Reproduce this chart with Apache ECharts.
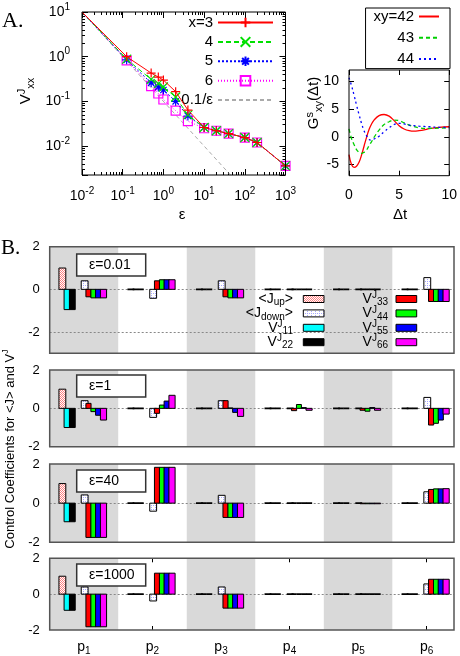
<!DOCTYPE html>
<html><head><meta charset="utf-8">
<script src="https://cdn.jsdelivr.net/npm/echarts@6/dist/echarts.min.js"></script>
<style>html,body{margin:0;padding:0;background:#fff}#c{width:460px;height:656px}</style>
</head><body><div id="c"></div>
<script>
// ===== Panel A (left): V^J_xx versus epsilon =====
const epsA = [0.01, 0.125, 0.5, 0.75, 1, 2, 4, 10, 20, 40, 100, 200, 1000];
const vxx3 = [10, 1.0, 0.43, 0.35, 0.30, 0.165, 0.064, 0.026, 0.022, 0.019, 0.0155, 0.012, 0.0036];
const vxx4 = [10, 0.88, 0.31, 0.25, 0.21, 0.125, 0.050, 0.026, 0.022, 0.019, 0.0155, 0.012, 0.0036];
const vxx5 = [10, 0.85, 0.26, 0.21, 0.18, 0.100, 0.047, 0.026, 0.022, 0.019, 0.0155, 0.012, 0.0036];
const vxx6 = [10, 0.83, 0.22, 0.15, 0.11, 0.062, 0.036, 0.025, 0.022, 0.019, 0.0155, 0.012, 0.0036];
const refEps = [0.01, 1000];
const refVal = [10, 0.0001];
const namesA = ['x=3', '4', '5', '6', '0.1/ε'];

// ===== Panel A (right): G^s_xy(Δt) =====
const dt  = [0, 0.25, 0.5, 0.75, 1, 1.25, 1.5, 1.75, 2, 2.25, 2.5, 3, 3.5, 4, 4.5, 5, 5.5, 6, 6.5, 7, 7.5, 8, 9, 10];
const g42 = [-3.2, -5.0, -5.5, -5.3, -4.6, -3.3, -1.7, -0.1, 1.3, 2.3, 3.0, 3.8, 4.0, 3.7, 2.9, 2.0, 1.4, 1.1, 1.0, 1.1, 1.25, 1.45, 1.7, 1.8];
const g43 = [1.4, -0.3, -1.4, -2.3, -2.8, -3.0, -2.8, -2.4, -1.6, -0.9, -0.1, 1.2, 2.2, 2.7, 3.0, 2.9, 2.5, 2.1, 1.8, 1.6, 1.5, 1.5, 1.55, 1.6];
const g44 = [10.6, 9.2, 7.5, 5.7, 4.0, 2.4, 1.1, 0.2, -0.5, -0.6, -0.4, 0.1, 0.9, 1.6, 2.2, 2.4, 2.3, 2.1, 2.0, 1.9, 1.85, 1.8, 1.7, 1.65];
const namesG = ['xy=42', '43', '44'];

// ===== Panel B: control coefficients (rows: ε=0.01, 1, 40, 1000; columns p1..p6) =====
const paramIdx = [1, 2, 3, 4, 5, 6];
const epsB = ['0.01', '1', '40', '1000'];
const Jup   = [[1.0,0,0,0,0,0],[1.0,0,0,0,0,0],[1.0,0,0,0,0,0],[1.0,0,0,0,0,0]];
const Jdown = [[0.4,-0.42,0.4,0,0,0.55],[0.4,-0.47,0.4,0,0,0.57],[0.42,-0.41,0.4,0,0,0.58],[0.4,-0.38,0.4,0,0,0.57]];
const V11 = [[-0.95,0,0,0,0,0],[-1.0,0,0,0,0,0],[-0.95,0,0,0,0,0],[-0.9,0,0,0,0,0]];
const V22 = [[-0.95,0,0,0,0,0],[-1.0,0,0,0,0,0],[-0.95,0,0,0,0,0],[-0.9,0,0,0,0,0]];
const V33 = [[-0.35,0.4,-0.35,0,0,-0.57],[0.26,-0.26,0.4,-0.12,-0.1,-0.87],[-1.75,1.83,-0.73,0,-0.03,0.7],[-1.82,1.17,-0.78,0,0,0.83]];
const V44 = [[-0.4,0.45,-0.4,0,0,-0.57],[-0.17,0.17,0.02,0.2,-0.15,-0.78],[-1.75,1.83,-0.73,0,-0.03,0.73],[-1.82,1.17,-0.78,0,0,0.83]];
const V55 = [[-0.4,0.45,-0.4,0,0,-0.57],[-0.36,0.38,-0.21,0.04,0.04,-0.61],[-1.75,1.83,-0.73,0,-0.03,0.73],[-1.82,1.17,-0.78,0,0,0.83]];
const V66 = [[-0.4,0.45,-0.4,0,0,-0.57],[-0.61,0.68,-0.42,-0.1,-0.1,-0.3],[-1.75,1.83,-0.73,0,-0.03,0.74],[-1.82,1.17,-0.78,0,0,0.83]];

// ================= rendering =================
const FF = '"Liberation Sans", Arial, sans-serif';
const SERIF = '"Liberation Serif", "DejaVu Serif", serif';
function R(fs, lh) {
  const s = Math.round(fs * 0.7);
  return {
    v:  {fontSize: fs, fontFamily: FF, color: '#000', lineHeight: lh || fs + 4},
    sp: {fontSize: s, fontFamily: FF, color: '#000', verticalAlign: 'top', lineHeight: s + 1},
    sb: {fontSize: s, fontFamily: FF, color: '#000', verticalAlign: 'bottom', lineHeight: s + 1}
  };
}
function mkPattern(kind) {
  const c = document.createElement('canvas'); c.width = 4; c.height = 4;
  const g = c.getContext('2d');
  g.fillStyle = '#fff'; g.fillRect(0, 0, 4, 4);
  if (kind === 'up') {
    g.fillStyle = '#ff8080';
    [[0,0],[2,0],[1,1],[3,1],[0,2],[2,2],[1,3],[3,3]].forEach(p => g.fillRect(p[0], p[1], 1, 1));
  } else {
    g.fillStyle = '#a8a8ff';
    g.fillRect(1, 1, 1, 1); g.fillRect(3, 3, 1, 1); g.fillRect(3, 1, 1, 1);
  }
  return {image: c, repeat: 'repeat'};
}
const patUp = mkPattern('up'), patDown = mkPattern('down');

const powLabel = v => {
  const e = Math.log10(v), r = Math.round(e);
  if (Math.abs(e - r) > 1e-6) return '';
  return '{v|10}{sp|' + r + '}';
};
const log10 = Math.log10;
const minorX = [], minorY = [];
for (let d = -2; d <= 2; d++) for (let m = 2; m <= 9; m++) minorX.push(log10(m) + d);
for (let d = -3; d <= 0; d++) for (let m = 2; m <= 9; m++) { const v = log10(m) + d; if (v > log10(0.00225)) minorY.push(v); }

const gridBase = {show: true, z: 10, backgroundColor: 'transparent', borderColor: '#000', borderWidth: 1};
const grids = [
  Object.assign({}, gridBase, {left: 82, top: 12, width: 203.5, height: 163}),
  Object.assign({}, gridBase, {left: 349, top: 70, width: 101.7, height: 105.7}),
  Object.assign({}, gridBase, {left: 49.7, top: 246.7, width: 404.3, height: 106.6, borderColor: '#555', borderWidth: 1.5}),
  Object.assign({}, gridBase, {left: 49.7, top: 370, width: 404.3, height: 76.7, borderColor: '#555', borderWidth: 1.5}),
  Object.assign({}, gridBase, {left: 49.7, top: 464, width: 404.3, height: 78.3, borderColor: '#555', borderWidth: 1.5}),
  Object.assign({}, gridBase, {left: 49.7, top: 558.3, width: 404.3, height: 76, borderColor: '#555', borderWidth: 1.5})
];

const noLine = {show: false, onZero: false};
const tickIn = len => ({show: true, inside: true, length: len, lineStyle: {color: '#000', width: 1}});
const xAxes = [
  {type: 'log', gridIndex: 0, min: 0.01, max: 1000, position: 'bottom', axisLine: noLine, splitLine: {show: false},
   axisTick: tickIn(6), axisLabel: {margin: 11, formatter: powLabel, rich: R(14, 20)}},
  {type: 'log', gridIndex: 0, min: 0.01, max: 1000, position: 'top', axisLine: noLine, splitLine: {show: false},
   axisTick: tickIn(6), axisLabel: {show: false}},
  {type: 'value', gridIndex: 0, min: -2, max: 3, position: 'bottom', axisLine: noLine, splitLine: {show: false},
   axisTick: Object.assign(tickIn(3), {customValues: minorX}), axisLabel: {show: false}},
  {type: 'value', gridIndex: 0, min: -2, max: 3, position: 'top', axisLine: noLine, splitLine: {show: false},
   axisTick: Object.assign(tickIn(3), {customValues: minorX}), axisLabel: {show: false}},
  {type: 'value', gridIndex: 1, min: 0, max: 10, interval: 5, position: 'bottom', axisLine: noLine, splitLine: {show: false},
   axisTick: tickIn(5), axisLabel: {margin: 12, fontSize: 14, fontFamily: FF, color: '#000'}},
  {type: 'value', gridIndex: 1, min: 0, max: 10, interval: 5, position: 'top', axisLine: noLine, splitLine: {show: false},
   axisTick: tickIn(5), axisLabel: {show: false}}
];
const yAxes = [
  {type: 'log', gridIndex: 0, min: 0.00225, max: 10, position: 'left', axisLine: noLine, splitLine: {show: false},
   axisTick: tickIn(6), axisLabel: {margin: 12, formatter: powLabel, rich: R(14, 20)}},
  {type: 'log', gridIndex: 0, min: 0.00225, max: 10, position: 'right', axisLine: noLine, splitLine: {show: false},
   axisTick: tickIn(6), axisLabel: {show: false}},
  {type: 'value', gridIndex: 0, min: log10(0.00225), max: 1, position: 'left', axisLine: noLine, splitLine: {show: false},
   axisTick: Object.assign(tickIn(3), {customValues: minorY}), axisLabel: {show: false}},
  {type: 'value', gridIndex: 0, min: log10(0.00225), max: 1, position: 'right', axisLine: noLine, splitLine: {show: false},
   axisTick: Object.assign(tickIn(3), {customValues: minorY}), axisLabel: {show: false}},
  {type: 'value', gridIndex: 1, min: -7, max: 12, position: 'left', axisLine: noLine, splitLine: {show: false},
   axisTick: Object.assign(tickIn(5), {customValues: [-5, 0, 5, 10]}),
   axisLabel: {customValues: [-5, 0, 5, 10], margin: 10, fontSize: 14, fontFamily: FF, color: '#000'}},
  {type: 'value', gridIndex: 1, min: -7, max: 12, position: 'right', axisLine: noLine, splitLine: {show: false},
   axisTick: Object.assign(tickIn(5), {customValues: [-5, 0, 5, 10]}), axisLabel: {show: false}}
];
// Panel B axes
for (let k = 0; k < 4; k++) {
  const last = k === 3;
  xAxes.push({type: 'value', gridIndex: 2 + k, min: 0.5, max: 6.4, position: 'bottom', axisLine: noLine, splitLine: {show: false},
    axisTick: last ? Object.assign(tickIn(4), {customValues: paramIdx}) : {show: false},
    axisLabel: last ? {customValues: paramIdx, margin: 8, formatter: v => '{v|p}{sb|' + v + '}', rich: R(14, 18)} : {show: false}});
  yAxes.push({type: 'value', gridIndex: 2 + k, min: k === 0 ? -3 : -2, max: 2, position: 'left', axisLine: noLine, splitLine: {show: false},
    axisTick: {show: false},
    axisLabel: {customValues: [-2, 0, 2], margin: 10, fontSize: 13, fontFamily: FF, color: '#000'}});
}
xAxes.push({type: 'value', gridIndex: 5, min: 0.5, max: 6.4, position: 'top', axisLine: noLine, splitLine: {show: false},
  axisTick: Object.assign(tickIn(4), {customValues: paramIdx}), axisLabel: {show: false}});

// ---- series ----
const series = [];
function ptsA(vals) { return epsA.map((e, i) => i === 0 ? {value: [e, vals[i]], symbol: 'none'} : [e, vals[i]]); }
const styleA = [
  {c: '#ff0000', t: 'solid', sym: 'path://M5,0L5,10M0,5L10,5'},
  {c: '#00e000', t: [5, 3], sym: 'path://M0,0L10,10M10,0L0,10'},
  {c: '#0000ff', t: [2, 2], sym: 'path://M5,0L5,10M0,5L10,5M1.5,1.5L8.5,8.5M8.5,1.5L1.5,8.5'},
  {c: '#ff00ff', t: [1, 2], sym: 'path://M0,0L10,0L10,10L0,10Z'}
];
[vxx3, vxx4, vxx5, vxx6].forEach((vals, i) => {
  const s = styleA[i];
  series.push({name: namesA[i], type: 'line', xAxisIndex: 0, yAxisIndex: 0, data: ptsA(vals), z: 5 - i * 0.1,
    symbol: s.sym, symbolSize: 9, lineStyle: {color: s.c, width: 1, type: s.t},
    itemStyle: {color: i === 3 ? 'rgba(0,0,0,0)' : s.c, borderColor: s.c, borderWidth: 1.2}});
});
series.push({name: namesA[4], type: 'line', xAxisIndex: 0, yAxisIndex: 0, z: 4,
  data: refEps.map((e, i) => [e, refVal[i]]), symbol: 'none', showSymbol: false,
  lineStyle: {color: '#aaaaaa', width: 1, type: [4, 3]}, itemStyle: {color: '#aaaaaa'}});

const styleG = [{c: '#ff0000', t: 'solid'}, {c: '#00d000', t: [4, 3]}, {c: '#0000ff', t: [2, 3]}];
[g42, g43, g44].forEach((vals, i) => {
  series.push({name: namesG[i], type: 'line', xAxisIndex: 4, yAxisIndex: 4, smooth: 0.4, symbol: 'none', showSymbol: false,
    data: dt.map((t, j) => [t, vals[j]]), lineStyle: {color: styleG[i].c, width: 1.3, type: styleG[i].t},
    itemStyle: {color: styleG[i].c}});
});

// bar specs: [name, values, x-offset within category, width, fill]
const barSpecs = [
  ['<Jup>', Jup, -0.315, 0.10, patUp],
  ['<Jdown>', Jdown, 0.01, 0.10, patDown],
  ['VJ11', V11, -0.25, 0.08, '#00ffff'],
  ['VJ22', V22, -0.17, 0.085, '#000000'],
  ['VJ33', V33, 0.066, 0.075, '#ff0000'],
  ['VJ44', V44, 0.137, 0.072, '#00ff00'],
  ['VJ55', V55, 0.207, 0.075, '#0000ff'],
  ['VJ66', V66, 0.285, 0.09, '#ff00ff']
];
for (let k = 0; k < 4; k++) {
  barSpecs.forEach((b, bi) => {
    const off = b[2], w = b[3], fill = b[4];
    const s = {
      name: b[0], type: 'custom', xAxisIndex: 6 + k, yAxisIndex: 6 + k, z: 3, silent: true,
      data: paramIdx.map((p, i) => [p, b[1][k][i]]),
      renderItem: (params, api) => {
        const x = api.value(0), v = api.value(1);
        const a = api.coord([x + off - w / 2, 0]);
        const c = api.coord([x + off + w / 2, v]);
        return {type: 'rect', shape: {x: a[0], y: Math.min(a[1], c[1]), width: c[0] - a[0], height: Math.abs(c[1] - a[1])},
          style: {fill: fill, stroke: '#000', lineWidth: v === 0 ? 1.6 : 1}};
      }
    };
    if (bi === 0) {
      s.markArea = {silent: true, z: 1, itemStyle: {color: '#d9d9d9'},
        data: [[{xAxis: 0.5}, {xAxis: 1.5}], [{xAxis: 2.5}, {xAxis: 3.5}], [{xAxis: 4.5}, {xAxis: 5.5}]]};
      const ml = [{yAxis: 0}];
      if (k === 0) ml.push({yAxis: -2});
      s.markLine = {silent: true, z: 2, symbol: 'none', label: {show: false}, animation: false,
        lineStyle: {color: '#888', width: 1, type: [2, 2]}, data: ml};
    }
    series.push(s);
  });
}

// ---- graphic elements: panel letters, axis titles, ε boxes, panel-B legend ----
const graphic = [];
const txt = (x, y, text, o) => ({type: 'text', x: x, y: y, z: 30,
  style: Object.assign({text: text, fontSize: 14, fontFamily: FF, fill: '#000', align: 'center', verticalAlign: 'middle'}, o || {})});
graphic.push(txt(2, 21, 'A.', {fontSize: 22, fontFamily: SERIF, align: 'left'}));
graphic.push(txt(1, 248, 'B.', {fontSize: 21, fontFamily: SERIF, align: 'left'}));
const tV = txt(26, 91, '{v|V}{sp|J}{sb|xx}', {rich: R(15, 20)}); tV.rotation = Math.PI / 2; graphic.push(tV);
graphic.push(txt(182, 215, 'ε', {fontSize: 15}));
graphic.push(txt(400, 215, 'Δt', {fontSize: 15}));
const tG = txt(314, 103, '{v|G}{sp|s}{sb|xy}{v|(Δt)}', {rich: R(15, 20)}); tG.rotation = Math.PI / 2; graphic.push(tG);
const tB = txt(10, 449, 'Control Coefficients for <J> and V{sp|J}', {fontSize: 13, lineHeight: 18, rich: {sp: {fontSize: 9, fontFamily: FF, verticalAlign: 'top', lineHeight: 10}}});
tB.rotation = Math.PI / 2; graphic.push(tB);
const boxTops = [254, 375, 470, 564];
boxTops.forEach((t, k) => {
  graphic.push({type: 'rect', z: 30, shape: {x: 76.7, y: t, width: 69, height: 22}, style: {fill: '#fff', stroke: '#333', lineWidth: 1.5}});
  graphic.push(txt(89, t + 11.5, 'ε=' + epsB[k], {align: 'left', fontSize: 14}));
});
const legRows = [299, 313.4, 327.8, 342.2];
const legLabels = [
  ['{v|<J}{sb|up}{v|>}', '{v|<J}{sb|down}{v|>}', '{v|V}{sp|J}{sb|11}', '{v|V}{sp|J}{sb|22}'],
  ['{v|V}{sp|J}{sb|33}', '{v|V}{sp|J}{sb|44}', '{v|V}{sp|J}{sb|55}', '{v|V}{sp|J}{sb|66}']
];
const legCols = [{tx: 293, sx: 303.3}, {tx: 388, sx: 396}];
for (let c = 0; c < 2; c++) for (let r = 0; r < 4; r++) {
  const spec = barSpecs[c === 0 ? r : 4 + r];
  graphic.push(txt(legCols[c].tx, legRows[r], legLabels[c][r], {align: 'right', rich: R(14, 17)}));
  graphic.push({type: 'rect', z: 30, shape: {x: legCols[c].sx, y: legRows[r] - 3.5, width: 20.7, height: 7},
    style: {fill: spec[4], stroke: '#000', lineWidth: 1}});
}

const hideSym = {opacity: 0};
const option = {
  animation: false,
  textStyle: {fontFamily: FF, color: '#000'},
  grid: grids, xAxis: xAxes, yAxis: yAxes, series: series, graphic: graphic,
  legend: [
    {data: namesA.map((n, i) => i === 4 ? {name: n, itemStyle: hideSym} : n), orient: 'vertical', align: 'right', right: 186, top: 15,
     padding: 0, itemWidth: 55, itemHeight: 12, itemGap: 4.4, selectedMode: false,
     textStyle: {fontSize: 15, fontFamily: FF, color: '#000'}},
    {data: namesG.map(n => ({name: n, itemStyle: hideSym})), orient: 'vertical', align: 'right', right: 10, top: 8,
     padding: [1, 10, 2, 8], itemWidth: 20, itemHeight: 12, itemGap: 6.3, selectedMode: false,
     borderColor: '#000', borderWidth: 1, backgroundColor: '#fff',
     textStyle: {fontSize: 15, fontFamily: FF, color: '#000'}}
  ]
};
const chart = echarts.init(document.getElementById('c'), null, {renderer: 'canvas', width: 460, height: 656});
chart.setOption(option);
</script></body></html>
